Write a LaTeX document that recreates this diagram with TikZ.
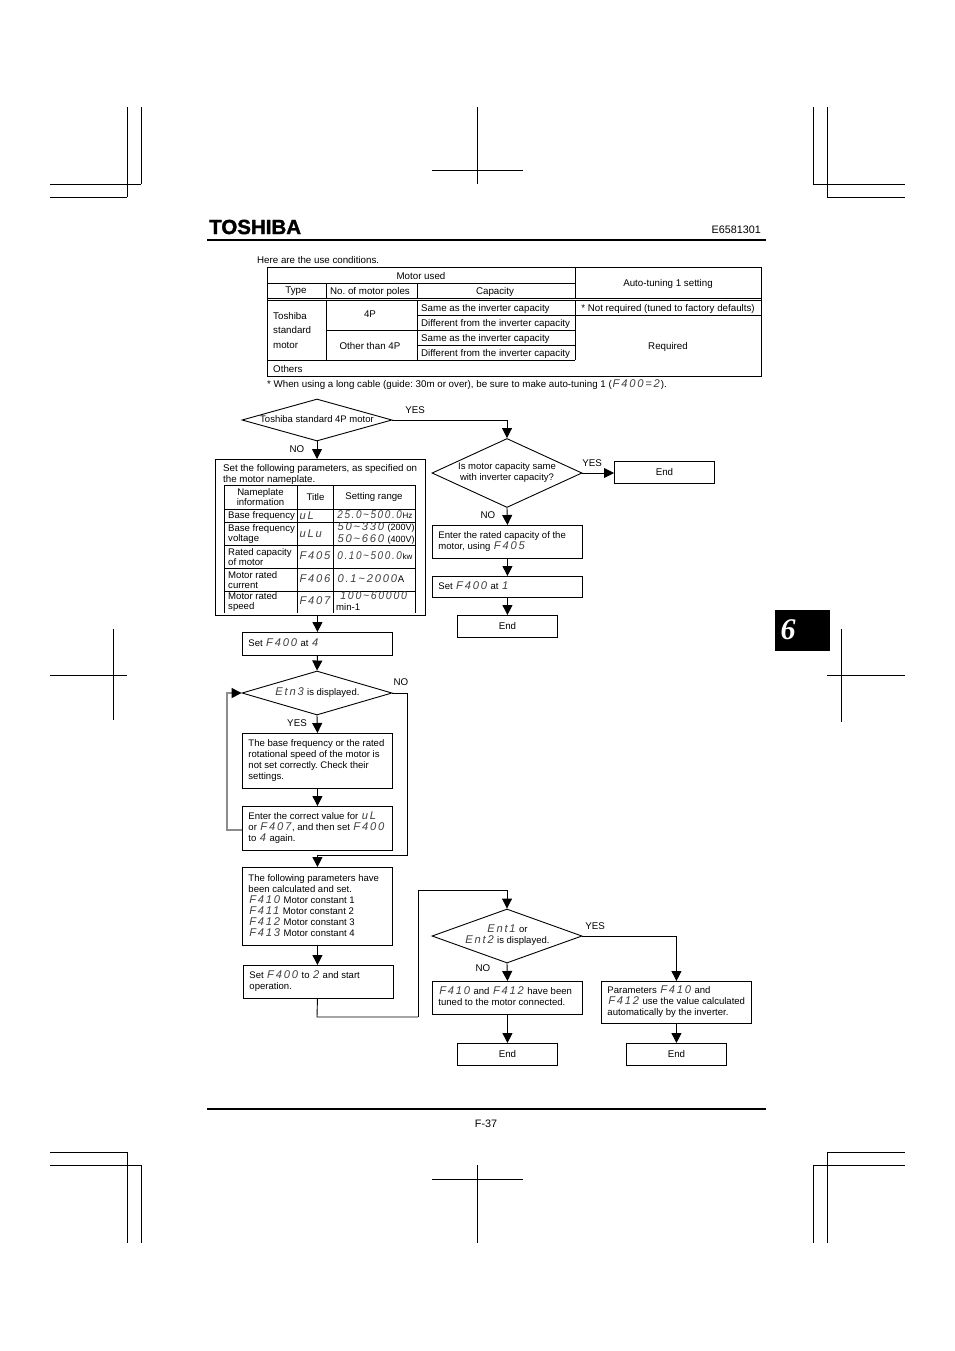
\documentclass[tikz,border=0pt]{standalone}
\usepackage{fontspec}
\usetikzlibrary{shapes.geometric,arrows.meta,calc}
\setmainfont{Liberation Sans}
\newfontfamily\segfont[LetterSpace=16]{Liberation Sans}
\newfontfamily\logofont[UprightFont={* Bold},FakeBold=1.6]{Liberation Sans}
\newfontfamily\tabfont{Liberation Serif}
\newcommand{\seg}[1]{\kern.8pt\relax\raisebox{0pt}[6.9pt][0pt]{\fontsize{11.2}{11}\segfont\itshape\textcolor{black!75}{#1}}\kern.8pt\relax}
\newcommand{\segn}[1]{\scalebox{.89}[1]{\seg{#1}}}
\newcommand{\lines}[1]{\makebox[138pt][l]{\begin{tabular}[c]{@{}l@{}}#1\end{tabular}}}
\definecolor{loopgray}{gray}{0.55}
\tikzset{
  x=1pt,y=-1pt,
  txt/.style={inner sep=0pt,font=\fontsize{9.75}{11}\selectfont},
  small/.style={inner sep=0pt,font=\fontsize{9.6}{11}\selectfont},
  tl/.style={txt,anchor=west},
  il/.style={small,anchor=west,align=left},
  ic/.style={small,anchor=center,align=center},
  tight/.style={font=\fontsize{9.6}{10.5}\selectfont},
  dtxt/.style={inner sep=0pt,font=\fontsize{9.5}{11}\selectfont},
  box/.style={draw,line width=.9pt,minimum height=#1,inner xsep=6pt,inner ysep=0pt,
     minimum width=150pt,anchor=north west,
     font=\fontsize{9.55}{11}\selectfont},
  endbox/.style={draw,line width=.9pt,minimum width=100pt,minimum height=21.5pt,inner sep=0pt,
     anchor=north west,font=\fontsize{9.75}{11}\selectfont},
  dia/.style={draw,diamond,line width=.9pt,inner sep=0pt,aspect=3.5,minimum width=150pt,
     minimum height=#1},
  crop/.style={line width=.6pt},
  rule/.style={line width=2.8pt},
  tline/.style={line width=.9pt},
  arr/.style={line width=.9pt,-{Triangle[width=10pt,length=10pt,color=black]}},
  conn/.style={line width=.9pt},
}
\begin{document}
\frenchspacing
\begin{tikzpicture}
\useasboundingbox (0,0) rectangle (954,1351);
% crop marks
\draw[crop] (127,107)--(127,197) (141,107)--(141,184) (50,184)--(141,184) (50,197)--(127,197);
\draw[crop] (477,107)--(477,184) (432,170)--(523,170);
\draw[crop] (813,107)--(813,184) (827,107)--(827,197) (813,184)--(905,184) (827,197)--(905,197);
\draw[crop] (113,629)--(113,720) (50,675)--(127,675);
\draw[crop] (841,629)--(841,722) (827,675)--(905,675);
\draw[crop] (50,1152)--(127,1152) (50,1165)--(141,1165) (127,1152)--(127,1243) (141,1165)--(141,1243);
\draw[crop] (477,1165)--(477,1243) (432,1179)--(523,1179);
\draw[crop] (827,1152)--(905,1152) (813,1165)--(905,1165) (813,1165)--(813,1243) (827,1152)--(827,1243);
% header / footer
\node[inner sep=0pt,anchor=west,font=\fontsize{20.5}{22}\logofont] (logo) at (209,227) {TOSHIBA};
\draw[rule] (207,240)--(766,240);
\draw[rule] (207,1109)--(766,1109);
\node[txt,anchor=east,font=\fontsize{10.8}{11}\selectfont] (docno) at (761,230) {E6581301};
\node[txt,font=\fontsize{10.8}{11}\selectfont] (page) at (486,1124) {F-37};
\fill (775,610) rectangle (830,651);
\node[inner sep=0pt,text=white,font=\fontsize{30}{30}\tabfont\bfseries\itshape] (chap) at (788,630) {6};
% use conditions
\node[tl] (intro) at (257,260) {Here are the use conditions.};
\draw[tline] (267,267) rectangle (761,376);
\draw[tline] (267,283)--(575,283) (326,283)--(326,298) (417,283)--(417,298);
\draw[tline] (575,267)--(575,298);
\draw[tline] (267,298)--(761,298) (267,300)--(761,300);
\draw[tline] (575,300)--(575,360) (326,300)--(326,360) (417,300)--(417,360);
\draw[tline] (417,315)--(761,315) (326,330)--(575,330) (417,345)--(575,345) (267,360)--(575,360);
\node[txt] (t1) at (421,276) {Motor used};
\node[txt] (t2) at (668,283.5) {Auto-tuning 1 setting};
\node[txt] (t3) at (296,291.5) {Type};
\node[txt] (t4) at (370,291.5) {No. of motor poles};
\node[txt] (t5) at (495,291.5) {Capacity};
\node[tl] (t6) at (273,316) {Toshiba};
\node[tl] (t7) at (273,330.5) {standard};
\node[tl] (t8) at (273,345.5) {motor};
\node[txt] (t9) at (370,314.5) {4P};
\node[txt] (t10) at (370,346.5) {Other than 4P};
\node[tl] (t11) at (421,308.5) {Same as the inverter capacity};
\node[tl] (t12) at (421,323.5) {Different from the inverter capacity};
\node[tl] (t13) at (421,338.5) {Same as the inverter capacity};
\node[tl] (t14) at (421,353.5) {Different from the inverter capacity};
\node[txt] (t15) at (668,308.5) {* Not required (tuned to factory defaults)};
\node[txt] (t16) at (668,346.5) {Required};
\node[tl] (t17) at (273,369.5) {Others};
\node[tl] (t18) at (267,384.5) {* When using a long cable (guide: 30m or over), be sure to make auto-tuning 1 (\seg{F400=2}).};
% flow nodes
\node[dia=42pt,label={[dtxt,yshift=.5pt]center:Toshiba standard 4P motor}] (d1) at (317,420) {};
\node[dia=69pt,label={[dtxt,align=center]center:{Is motor capacity same\\with inverter capacity?}}] (d4) at (507,473) {};
\node[endbox] (e1) at (614,461) {End};
\node[box=33pt] (b6) at (432,525) {\lines{Enter the rated capacity of the\\motor, using \seg{F405}}};
\node[box=21pt] (b7) at (432,576) {\lines{Set \seg{F400} at \seg{1}}};
\node[endbox] (e2) at (457,615) {End};
% parameter box
\node[draw,line width=.9pt,minimum width=209.5pt,minimum height=156pt,inner sep=0pt,anchor=north west] (pb) at (215,459) {};
\node[inner sep=0pt,anchor=north west,text width=194pt,align=justify,font=\fontsize{9.75}{11}\selectfont] (pbt) at (223,464.5) {Set the following parameters, as specified on the motor nameplate.};
\draw[tline] (224,485)--(415,485) (224,509)--(415,509) (224,522)--(415,522) (224,545)--(415,545) (224,568)--(415,568) (224,591)--(415,591);
\draw[tline] (224,485)--(224,613) (297,485)--(297,613) (333,485)--(333,613) (415,485)--(415,613);
\node[ic,tight] (p1) at (260.5,497) {Nameplate\\information};
\node[ic] (p2) at (315.5,497) {Title};
\node[ic] (p3) at (374,497) {Setting range};
\node[il] (p4) at (228,516) {Base frequency};
\node[il,tight] (p5) at (228,534) {Base frequency\\voltage};
\node[il,tight] (p6) at (228,557) {Rated capacity\\of motor};
\node[il,tight] (p7) at (228,580) {Motor rated\\current};
\node[il,tight] (p8) at (228,602) {Motor rated\\speed};
\node[il] (q1) at (298.5,516) {\seg{uL}};
\node[il] (q2) at (298.5,534) {\seg{uLu}};
\node[il] (q3) at (298.5,556) {\seg{F405}};
\node[il] (q4) at (298.5,579) {\seg{F406}};
\node[il] (q5) at (298.5,601) {\seg{F407}};
\node[il] (r1) at (336.5,515.5) {\segn{25.0\textasciitilde 500.0}{\fontsize{8}{9}\selectfont Hz}};
\node[il] (r2) at (336.5,528) {\seg{50\textasciitilde 330} {\fontsize{9}{9}\selectfont(200V)}};
\node[il] (r3) at (336.5,540) {\seg{50\textasciitilde 660} {\fontsize{9}{9}\selectfont(400V)}};
\node[il] (r4) at (336.5,556) {\segn{0.10\textasciitilde 500.0}{\fontsize{8}{9}\selectfont kw}};
\node[il] (r5) at (336.5,579) {\seg{0.1\textasciitilde 2000}A};
\node[il] (r6) at (339.5,596) {\scalebox{.94}[1]{\seg{100\textasciitilde 60000}}};
\node[il] (r7) at (336,607) {min-1};
% left column
\node[box=23pt] (b1) at (242,632) {\lines{Set \seg{F400} at \seg{4}}};
\node[dia=44pt,label={[dtxt]center:\seg{Etn3} is displayed.}] (d2) at (317,693) {};
\node[box=55pt] (b2) at (242,733) {\lines{The base frequency or the rated\\rotational speed of the motor is\\not set correctly. Check their\\settings.}};
\node[box=44pt] (b3) at (242,806) {\lines{Enter the correct value for \seg{uL}\\or \seg{F407}, and then set \seg{F400}\\to \seg{4} again.}};
\node[box=78pt] (b4) at (242,867) {\lines{The following parameters have\\been calculated and set.\\\seg{F410} Motor constant 1\\\seg{F411} Motor constant 2\\\seg{F412} Motor constant 3\\\seg{F413} Motor constant 4}};
\node[box=33pt] (b5) at (243,965) {\lines{Set \seg{F400} to \seg{2} and start\\operation.}};
% right lower
\node[dia=54pt,label={[dtxt,align=center]center:{\seg{Ent1} or\\\seg{Ent2} is displayed.}}] (d3) at (507,936) {};
\node[box=33pt] (b8) at (432,981) {\lines{\seg{F410} and \seg{F412} have been\\tuned to the motor connected.}};
\node[box=42pt] (b9) at (601,981) {\lines{Parameters \seg{F410} and\\\seg{F412} use the value calculated\\automatically by the inverter.}};
\node[endbox] (e3) at (457,1043) {End};
\node[endbox] (e4) at (626,1043) {End};
% edge labels
\node[txt] (y1) at (415,410) {YES};
\node[txt] (n1) at (297,449) {NO};
\node[txt] (y2) at (592,463) {YES};
\node[txt] (n2) at (488,515) {NO};
\node[txt] (n3) at (401,682) {NO};
\node[txt] (y3) at (297,723) {YES};
\node[txt] (y4) at (595,926) {YES};
\node[txt] (n4) at (483,968) {NO};
% helper coordinates
\coordinate (c1) at (407,855);
\coordinate (c2) at (227,830);
\coordinate (c3) at (317,1017);
\coordinate (c4) at (418,1017);
\coordinate (c5) at (418,890);
% connectors
\draw[arr] (d1.south) -- (pb.north -| d1.south);
\draw[arr] (pb.south -| b1.north) -- (b1.north);
\draw[arr] (b1.south) -- (d2.north);
\draw[arr] (d2.south) -- (b2.north);
\draw[arr] (b2.south) -- (b3.north);
\draw[arr] (d2.east) -| (c1) -| (b4.north);
\draw[arr,draw=loopgray,line width=1.3pt] (b3.west |- c2) -- (c2) |- (d2.west);
\draw[arr] (b4.south) -- (b4.south |- b5.north);
\draw[conn] (b4.south |- b5.south) -- (c3) -- (c4);
\draw[arr] (c4) -- (c5) -| (d3.north);
\draw[arr] (d1.east) -| (d4.north);
\draw[arr] (d4.east) -- (e1.west |- d4.east);
\draw[arr] (d4.south) -- (b6.north);
\draw[arr] (b6.south) -- (b7.north);
\draw[arr] (b7.south) -- (e2.north);
\draw[arr] (d3.south) -- (b8.north);
\draw[arr] (b8.south) -- (e3.north);
\draw[arr] (d3.east) -| (b9.north);
\draw[arr] (b9.south) -- (e4.north);
\end{tikzpicture}
\end{document}
